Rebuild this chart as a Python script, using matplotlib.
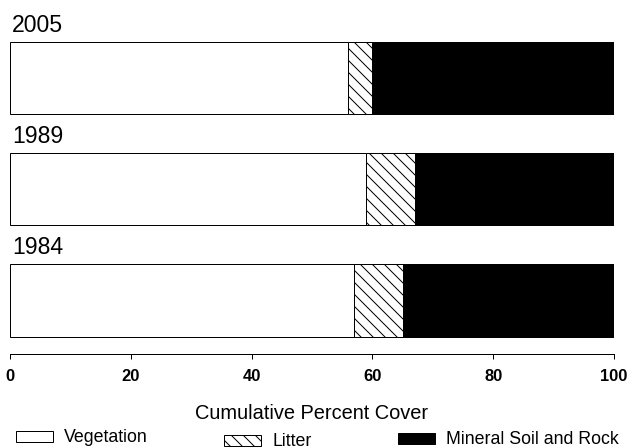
import numpy as np
import matplotlib.pyplot as plt
from matplotlib.patches import Patch

plt.rcParams["font.family"] = ["Liberation Sans", "DejaVu Sans"]
plt.rcParams["hatch.linewidth"] = 1.0

# Percent cover per survey year (top to bottom)
years = ["2005", "1989", "1984"]
vegetation = [56, 59, 57]
litter = [4, 8, 8]
mineral = [40, 33, 35]

categories = ["Vegetation", "Litter", "Mineral Soil and Rock"]

# %%

fig = plt.figure(figsize=(630 / 72, 447 / 72), dpi=72)
ax = fig.add_axes([10 / 630, 1 - 354 / 447, 604 / 630, 344 / 447])

ypos = np.arange(len(years))[::-1]
height = 0.65
styles = [dict(color="white", hatch=None),
          dict(color="white", hatch="\\\\"),
          dict(color="black", hatch=None)]

left = np.zeros(len(years))
for values, style in zip([vegetation, litter, mineral], styles):
    values = np.array(values, dtype=float)
    ax.barh(ypos, values, left=left, height=height, color=style["color"],
            hatch=style["hatch"], edgecolor="black", linewidth=1.0)
    left += values

for y, year in zip(ypos, years):
    ax.text(0.3, y + 0.415, year, fontsize=23, ha="left", va="baseline")

ax.set_xlim(0, 100)
ax.set_ylim(-0.482, 2.613)
ax.set_yticks([])
ax.set_xticks(np.arange(0, 101, 20))
ax.tick_params(axis="x", direction="out", length=5, width=1, labelsize=16.5, pad=10)
for label in ax.get_xticklabels():
    label.set_fontweight("bold")
for side in ["top", "right", "left"]:
    ax.spines[side].set_visible(False)
ax.spines["bottom"].set_linewidth(1)

ax.set_xlabel("Cumulative Percent Cover", fontsize=20)
ax.xaxis.set_label_coords(0.5, -0.145)

# One legend per entry so each can sit at its own spot along the bottom
legend_spots = [(16, 438), (224, 442), (398, 440)]
for name, style, (px, py) in zip(categories, styles, legend_spots):
    handle = Patch(facecolor=style["color"], hatch=style["hatch"], edgecolor="black", linewidth=1.0)
    fig.legend([handle], [name], loc="center left", bbox_to_anchor=(px / 630, 1 - py / 447),
               frameon=False, fontsize=17.8, borderpad=0, borderaxespad=0,
               handlelength=2.1, handleheight=0.6, handletextpad=0.6)

fig.savefig("out.png", dpi=72)
